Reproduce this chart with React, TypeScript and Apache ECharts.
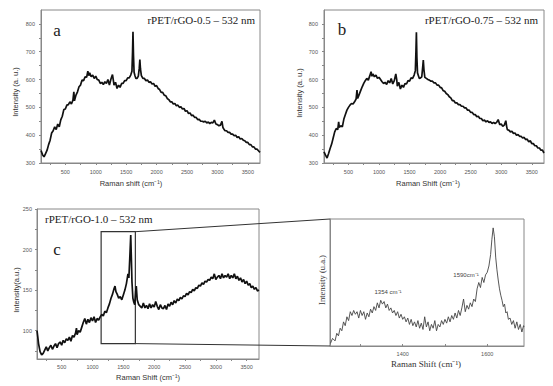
import React, { useEffect, useRef } from 'react';
import * as echarts from 'echarts';

// Spectrum a: rPET/rGO-0.5 – 532 nm  [Raman shift, intensity]
const spectrumA: [number, number][] = [
  [100,345],[125,330],[150,322],[175,334],[200,346],[225,366],[250,382],[275,408],[300,416],[325,430],[350,420],[375,440],[400,430],[425,455],[450,468],[475,492],[500,494],[525,508],[550,510],[575,520],[600,512],[625,526],[640,556],[650,524],[675,544],[700,556],[725,574],[750,580],[775,598],[800,596],[825,610],[850,608],[870,630],[885,614],[900,624],[925,610],[950,616],[975,604],[1000,612],[1025,600],[1050,598],[1075,586],[1100,590],[1125,582],[1150,592],[1175,586],[1200,600],[1225,580],[1250,602],[1275,618],[1290,596],[1300,580],[1325,590],[1350,568],[1375,580],[1400,572],[1425,586],[1450,586],[1475,596],[1500,596],[1525,606],[1550,606],[1575,616],[1595,630],[1605,700],[1612,772],[1620,690],[1630,626],[1645,614],[1660,604],[1680,604],[1700,612],[1715,640],[1725,672],[1735,638],[1750,614],[1775,604],[1800,604],[1825,596],[1850,598],[1875,590],[1900,592],[1925,584],[1950,586],[1975,576],[2000,578],[2025,568],[2050,564],[2075,554],[2100,554],[2125,544],[2150,542],[2175,532],[2200,528],[2225,520],[2250,520],[2275,512],[2300,514],[2325,506],[2350,508],[2375,500],[2400,502],[2425,494],[2450,496],[2475,486],[2500,488],[2525,478],[2550,480],[2575,470],[2600,472],[2625,464],[2650,464],[2675,456],[2700,457],[2725,450],[2750,450],[2775,448],[2800,450],[2825,444],[2850,447],[2875,442],[2900,446],[2925,444],[2950,454],[2975,440],[3000,438],[3025,434],[3050,436],[3075,450],[3090,428],[3100,424],[3125,416],[3150,416],[3175,410],[3200,410],[3225,404],[3250,404],[3275,398],[3300,400],[3325,392],[3350,394],[3375,386],[3400,388],[3425,382],[3450,380],[3475,374],[3500,374],[3525,366],[3550,366],[3575,358],[3600,358],[3625,350],[3650,350],[3675,344],[3700,338]
];

// Spectrum b: rPET/rGO-0.75 – 532 nm
const spectrumB: [number, number][] = [
  [100,340],[125,328],[150,318],[175,334],[200,352],[225,368],[250,390],[275,412],[300,424],[325,420],[340,448],[350,428],[375,434],[400,430],[425,458],[450,474],[475,490],[500,500],[525,508],[550,514],[575,512],[600,520],[625,530],[640,562],[650,532],[675,546],[700,560],[725,574],[750,586],[775,596],[800,604],[825,598],[850,614],[870,628],[885,612],[900,620],[925,610],[950,616],[975,604],[1000,608],[1025,600],[1050,592],[1075,586],[1100,590],[1125,582],[1150,596],[1175,588],[1200,604],[1225,584],[1250,596],[1275,620],[1290,600],[1300,576],[1325,590],[1350,566],[1375,580],[1400,572],[1425,586],[1450,584],[1475,596],[1500,594],[1525,606],[1550,604],[1575,616],[1595,632],[1605,705],[1612,770],[1620,680],[1630,624],[1645,614],[1660,604],[1680,606],[1700,610],[1715,645],[1725,670],[1735,636],[1750,608],[1775,604],[1800,600],[1825,598],[1850,594],[1875,594],[1900,588],[1925,588],[1950,580],[1975,580],[2000,572],[2025,570],[2050,560],[2075,558],[2100,550],[2125,546],[2150,538],[2175,534],[2200,524],[2225,524],[2250,516],[2275,516],[2300,510],[2325,510],[2350,504],[2375,504],[2400,498],[2425,498],[2450,490],[2475,490],[2500,482],[2525,482],[2550,474],[2575,474],[2600,466],[2625,468],[2650,460],[2675,460],[2700,452],[2725,454],[2750,448],[2775,452],[2800,446],[2825,448],[2850,442],[2875,446],[2900,442],[2925,446],[2950,456],[2975,438],[3000,440],[3025,432],[3050,436],[3075,452],[3090,430],[3100,420],[3125,418],[3150,412],[3175,414],[3200,406],[3225,408],[3250,400],[3275,402],[3300,396],[3325,396],[3350,390],[3375,392],[3400,384],[3425,386],[3450,376],[3475,380],[3500,370],[3525,370],[3550,362],[3575,362],[3600,354],[3625,354],[3650,346],[3675,346],[3700,336]
];

// Spectrum c: rPET/rGO-1.0 – 532 nm
const spectrumC: [number, number][] = [
  [100,100],[110,94],[125,84],[150,74],[175,70],[200,72],[225,76],[250,80],[275,75],[300,79],[325,82],[350,77],[375,81],[400,84],[425,79],[450,84],[475,86],[500,82],[525,88],[550,85],[575,90],[600,88],[625,92],[650,87],[675,94],[700,92],[725,97],[740,103],[750,95],[775,100],[800,98],[825,104],[850,110],[875,115],[900,108],[925,114],[950,110],[975,116],[1000,112],[1025,117],[1050,110],[1075,115],[1100,113],[1125,117],[1150,120],[1175,118],[1200,124],[1225,122],[1250,128],[1275,133],[1300,140],[1325,145],[1350,152],[1365,155],[1380,148],[1400,145],[1425,140],[1450,142],[1475,138],[1500,144],[1525,150],[1550,158],[1575,170],[1590,165],[1605,190],[1620,218],[1630,190],[1640,160],[1655,140],[1670,135],[1685,132],[1700,148],[1710,155],[1725,138],[1750,132],[1775,130],[1800,128],[1825,134],[1850,128],[1875,131],[1900,127],[1925,133],[1950,128],[1975,132],[2000,129],[2025,136],[2050,130],[2075,126],[2100,132],[2125,128],[2150,127],[2175,131],[2200,126],[2225,133],[2250,130],[2275,135],[2300,132],[2325,137],[2350,134],[2375,139],[2400,137],[2425,141],[2450,139],[2475,143],[2500,142],[2525,146],[2550,144],[2575,148],[2600,147],[2625,151],[2650,149],[2675,153],[2700,152],[2725,156],[2750,155],[2775,159],[2800,157],[2825,161],[2850,160],[2875,163],[2900,162],[2925,166],[2950,164],[2975,170],[3000,163],[3025,166],[3050,168],[3075,164],[3100,170],[3125,165],[3150,168],[3175,166],[3200,170],[3225,164],[3250,168],[3275,165],[3300,170],[3325,164],[3350,167],[3375,162],[3400,165],[3425,160],[3450,163],[3475,158],[3500,161],[3525,156],[3550,158],[3575,153],[3600,155],[3625,151],[3650,153],[3675,149],[3700,150]
];

// Inset d: zoom of c (arbitrary intensity 0–100)
const spectrumD: [number, number][] = [
  [1229,2],[1234,6],[1240,4],[1244,10],[1248,8],[1252,14],[1256,12],[1260,19],[1264,16],[1268,23],[1272,20],[1276,27],[1280,24],[1284,28],[1288,25],[1292,27],[1296,22],[1300,28],[1304,24],[1308,27],[1312,21],[1316,26],[1320,23],[1324,29],[1328,26],[1332,31],[1336,28],[1340,34],[1344,30],[1348,36],[1352,33],[1356,35],[1360,30],[1364,33],[1368,28],[1372,30],[1376,26],[1380,28],[1384,24],[1388,27],[1392,22],[1396,25],[1400,21],[1404,23],[1408,19],[1412,22],[1416,17],[1420,21],[1424,16],[1428,19],[1432,15],[1436,20],[1440,14],[1444,18],[1448,13],[1452,23],[1456,15],[1460,19],[1464,12],[1468,17],[1472,14],[1476,20],[1480,12],[1484,17],[1488,15],[1492,20],[1496,17],[1500,21],[1504,18],[1508,23],[1512,19],[1516,24],[1520,21],[1524,26],[1528,22],[1532,28],[1536,24],[1540,30],[1544,37],[1548,27],[1552,32],[1556,29],[1560,34],[1564,31],[1568,37],[1572,35],[1576,45],[1580,50],[1584,46],[1588,54],[1592,50],[1596,56],[1600,58],[1604,63],[1608,72],[1611,84],[1614,93],[1617,86],[1620,70],[1623,60],[1626,52],[1629,45],[1632,40],[1635,36],[1638,31],[1641,33],[1644,26],[1647,27],[1650,21],[1654,22],[1658,17],[1662,20],[1666,14],[1670,19],[1674,13],[1678,17],[1682,11],[1686,16],[1687,15]
];

const wideXLabels = [500, 1000, 1500, 2000, 2500, 3000, 3500];
const wideXTicks = [250, 500, 750, 1000, 1250, 1500, 1750, 2000, 2250, 2500, 2750, 3000, 3250, 3500];
const abYLabels = [300, 400, 500, 600, 700, 800];
const abYTicks = [300, 350, 400, 450, 500, 550, 600, 650, 700, 750, 800];
const cYLabels = [100, 150, 200, 250];
const cYTicks = [75, 100, 125, 150, 175, 200, 225, 250];
const dXLabels = [1400, 1600];
const dXTicks = [1300, 1400, 1500, 1600];

// zoom window drawn on c
const zoomBoxX = [1140, 1695];
const zoomBoxY = [84, 222];

const SANS = 'Liberation Sans, Arial, sans-serif';
const SERIF = 'Liberation Serif, Times New Roman, serif';
const AXIS_COLOR = '#888';
const LABEL_COLOR = '#555';
const plain = (v: number) => String(v);

function xAxis(gridIndex: number, min: number, max: number, labels: number[], ticks: number[], margin: number, inside = false) {
  return {
    type: 'value', gridIndex, min, max,
    axisLine: { show: true, lineStyle: { color: AXIS_COLOR, width: 1 } },
    axisTick: { show: true, customValues: ticks, length: 2, inside, lineStyle: { color: AXIS_COLOR } },
    axisLabel: { show: true, customValues: labels, formatter: plain, margin, fontSize: 5.5, color: LABEL_COLOR, fontFamily: SANS },
    splitLine: { show: false },
  };
}

function yAxis(gridIndex: number, min: number, max: number, labels: number[] | null, ticks: number[] | null, margin: number) {
  return {
    type: 'value', gridIndex, min, max,
    axisLine: { show: true, lineStyle: { color: AXIS_COLOR, width: 1 } },
    axisTick: ticks ? { show: true, customValues: ticks, length: 2, lineStyle: { color: AXIS_COLOR } } : { show: false },
    axisLabel: labels ? { show: true, customValues: labels, formatter: plain, margin, fontSize: 5.5, color: LABEL_COLOR, fontFamily: SANS } : { show: false },
    splitLine: { show: false },
  };
}

function txt(text: string, x: number, y: number, size: number, family: string, align = 'center', rotation = 0, fill = '#333') {
  return {
    type: 'text', x, y, rotation,
    style: { text, fontSize: size, fontFamily: family, fill, textAlign: align, textVerticalAlign: 'middle' },
    silent: true,
  };
}

export default function App() {
  const ref = useRef<HTMLDivElement>(null);
  useEffect(() => {
    const chart = echarts.init(ref.current!, null, { renderer: 'svg' });
    const gridStyle = { show: true, borderColor: AXIS_COLOR, borderWidth: 1, backgroundColor: 'transparent', containLabel: false };
    const option: any = {
      animation: false,
      backgroundColor: '#fff',
      grid: [
        { ...gridStyle, left: 41, top: 10, width: 219, height: 153 },
        { ...gridStyle, left: 324, top: 10, width: 220, height: 153 },
        { ...gridStyle, left: 37, top: 209, width: 222, height: 150 },
        { ...gridStyle, left: 330, top: 219, width: 194, height: 127 },
      ],
      xAxis: [
        xAxis(0, 100, 3700, wideXLabels, wideXTicks, 6),
        xAxis(1, 100, 3700, wideXLabels, wideXTicks, 6),
        xAxis(2, 100, 3700, wideXLabels, wideXTicks, 5),
        xAxis(3, 1228, 1687, dXLabels, dXTicks, 5, true),
      ],
      yAxis: [
        yAxis(0, 300, 850, abYLabels, abYTicks, 6),
        yAxis(1, 300, 850, abYLabels, abYTicks, 6),
        yAxis(2, 65, 250, cYLabels, cYTicks, 5),
        yAxis(3, 0, 100, null, null, 4),
      ],
      series: [
        { type: 'line', xAxisIndex: 0, yAxisIndex: 0, data: spectrumA, showSymbol: false, lineStyle: { color: '#111', width: 1.7 } },
        { type: 'line', xAxisIndex: 1, yAxisIndex: 1, data: spectrumB, showSymbol: false, lineStyle: { color: '#111', width: 1.7 } },
        {
          type: 'line', xAxisIndex: 2, yAxisIndex: 2, data: spectrumC, showSymbol: false, lineStyle: { color: '#111', width: 1.7 },
          markArea: {
            silent: true,
            itemStyle: { color: 'rgba(0,0,0,0)', borderColor: '#333', borderWidth: 1.2 },
            data: [[{ coord: [zoomBoxX[0], zoomBoxY[1]] }, { coord: [zoomBoxX[1], zoomBoxY[0]] }]],
          },
        },
        { type: 'line', xAxisIndex: 3, yAxisIndex: 3, data: spectrumD, showSymbol: false, lineStyle: { color: '#444', width: 0.9 } },
      ],
    };
    chart.setOption(option);

    const pTop = chart.convertToPixel({ gridIndex: 2 }, [zoomBoxX[1], zoomBoxY[1]]) as number[];
    const pBot = chart.convertToPixel({ gridIndex: 2 }, [zoomBoxX[1], zoomBoxY[0]]) as number[];
    const dTop = chart.convertToPixel({ gridIndex: 3 }, [1228, 100]) as number[];
    const dBot = chart.convertToPixel({ gridIndex: 3 }, [1228, 0]) as number[];

    chart.setOption({
      graphic: [
        txt('rPET/rGO-0.5 – 532 nm', 255, 20, 11, SERIF, 'right', 0, '#222'),
        txt('a', 57, 30, 17, SERIF, 'center', 0, '#222'),
        txt('rPET/rGO-0.75 – 532 nm', 538, 20, 11, SERIF, 'right', 0, '#222'),
        txt('b', 342, 29, 17, SERIF, 'center', 0, '#222'),
        txt('rPET/rGO-1.0 – 532 nm', 45, 219, 11, SERIF, 'left', 0, '#222'),
        txt('c', 57, 249, 17, SERIF, 'center', 0, '#222'),
        txt('Raman shift (cm⁻¹)', 131, 183, 7.5, SANS),
        txt('Intensity (a. u.)', 15, 92, 7.5, SANS, 'center', Math.PI / 2),
        txt('Raman Shift (cm⁻¹)', 428, 183, 7.5, SANS),
        txt('Intensity (a. u.)', 299, 93, 7.5, SANS, 'center', Math.PI / 2),
        txt('Raman Shift (cm⁻¹)', 148, 377, 7.5, SANS),
        txt('Intensity(a.u.)', 16, 290, 7.5, SANS, 'center', Math.PI / 2),
        txt('Raman Shift (cm⁻¹)', 426, 364, 9, SERIF),
        txt('Intensity (u.a.)', 322, 280, 8.5, SERIF, 'center', Math.PI / 2),
        txt('1354 cm⁻¹', 388, 292, 6, SANS, 'center', 0, '#444'),
        txt('1590cm⁻¹', 466, 275, 6, SANS, 'center', 0, '#444'),
        { type: 'line', silent: true, shape: { x1: pTop[0], y1: pTop[1], x2: dTop[0], y2: dTop[1] }, style: { stroke: '#333', lineWidth: 1 } },
        { type: 'line', silent: true, shape: { x1: pBot[0], y1: pBot[1], x2: dBot[0], y2: dBot[1] }, style: { stroke: '#333', lineWidth: 1 } },
      ],
    });
    return () => chart.dispose();
  }, []);
  return <div ref={ref} style={{ position: 'fixed', left: 0, top: 0, width: 553, height: 386 }} />;
}
